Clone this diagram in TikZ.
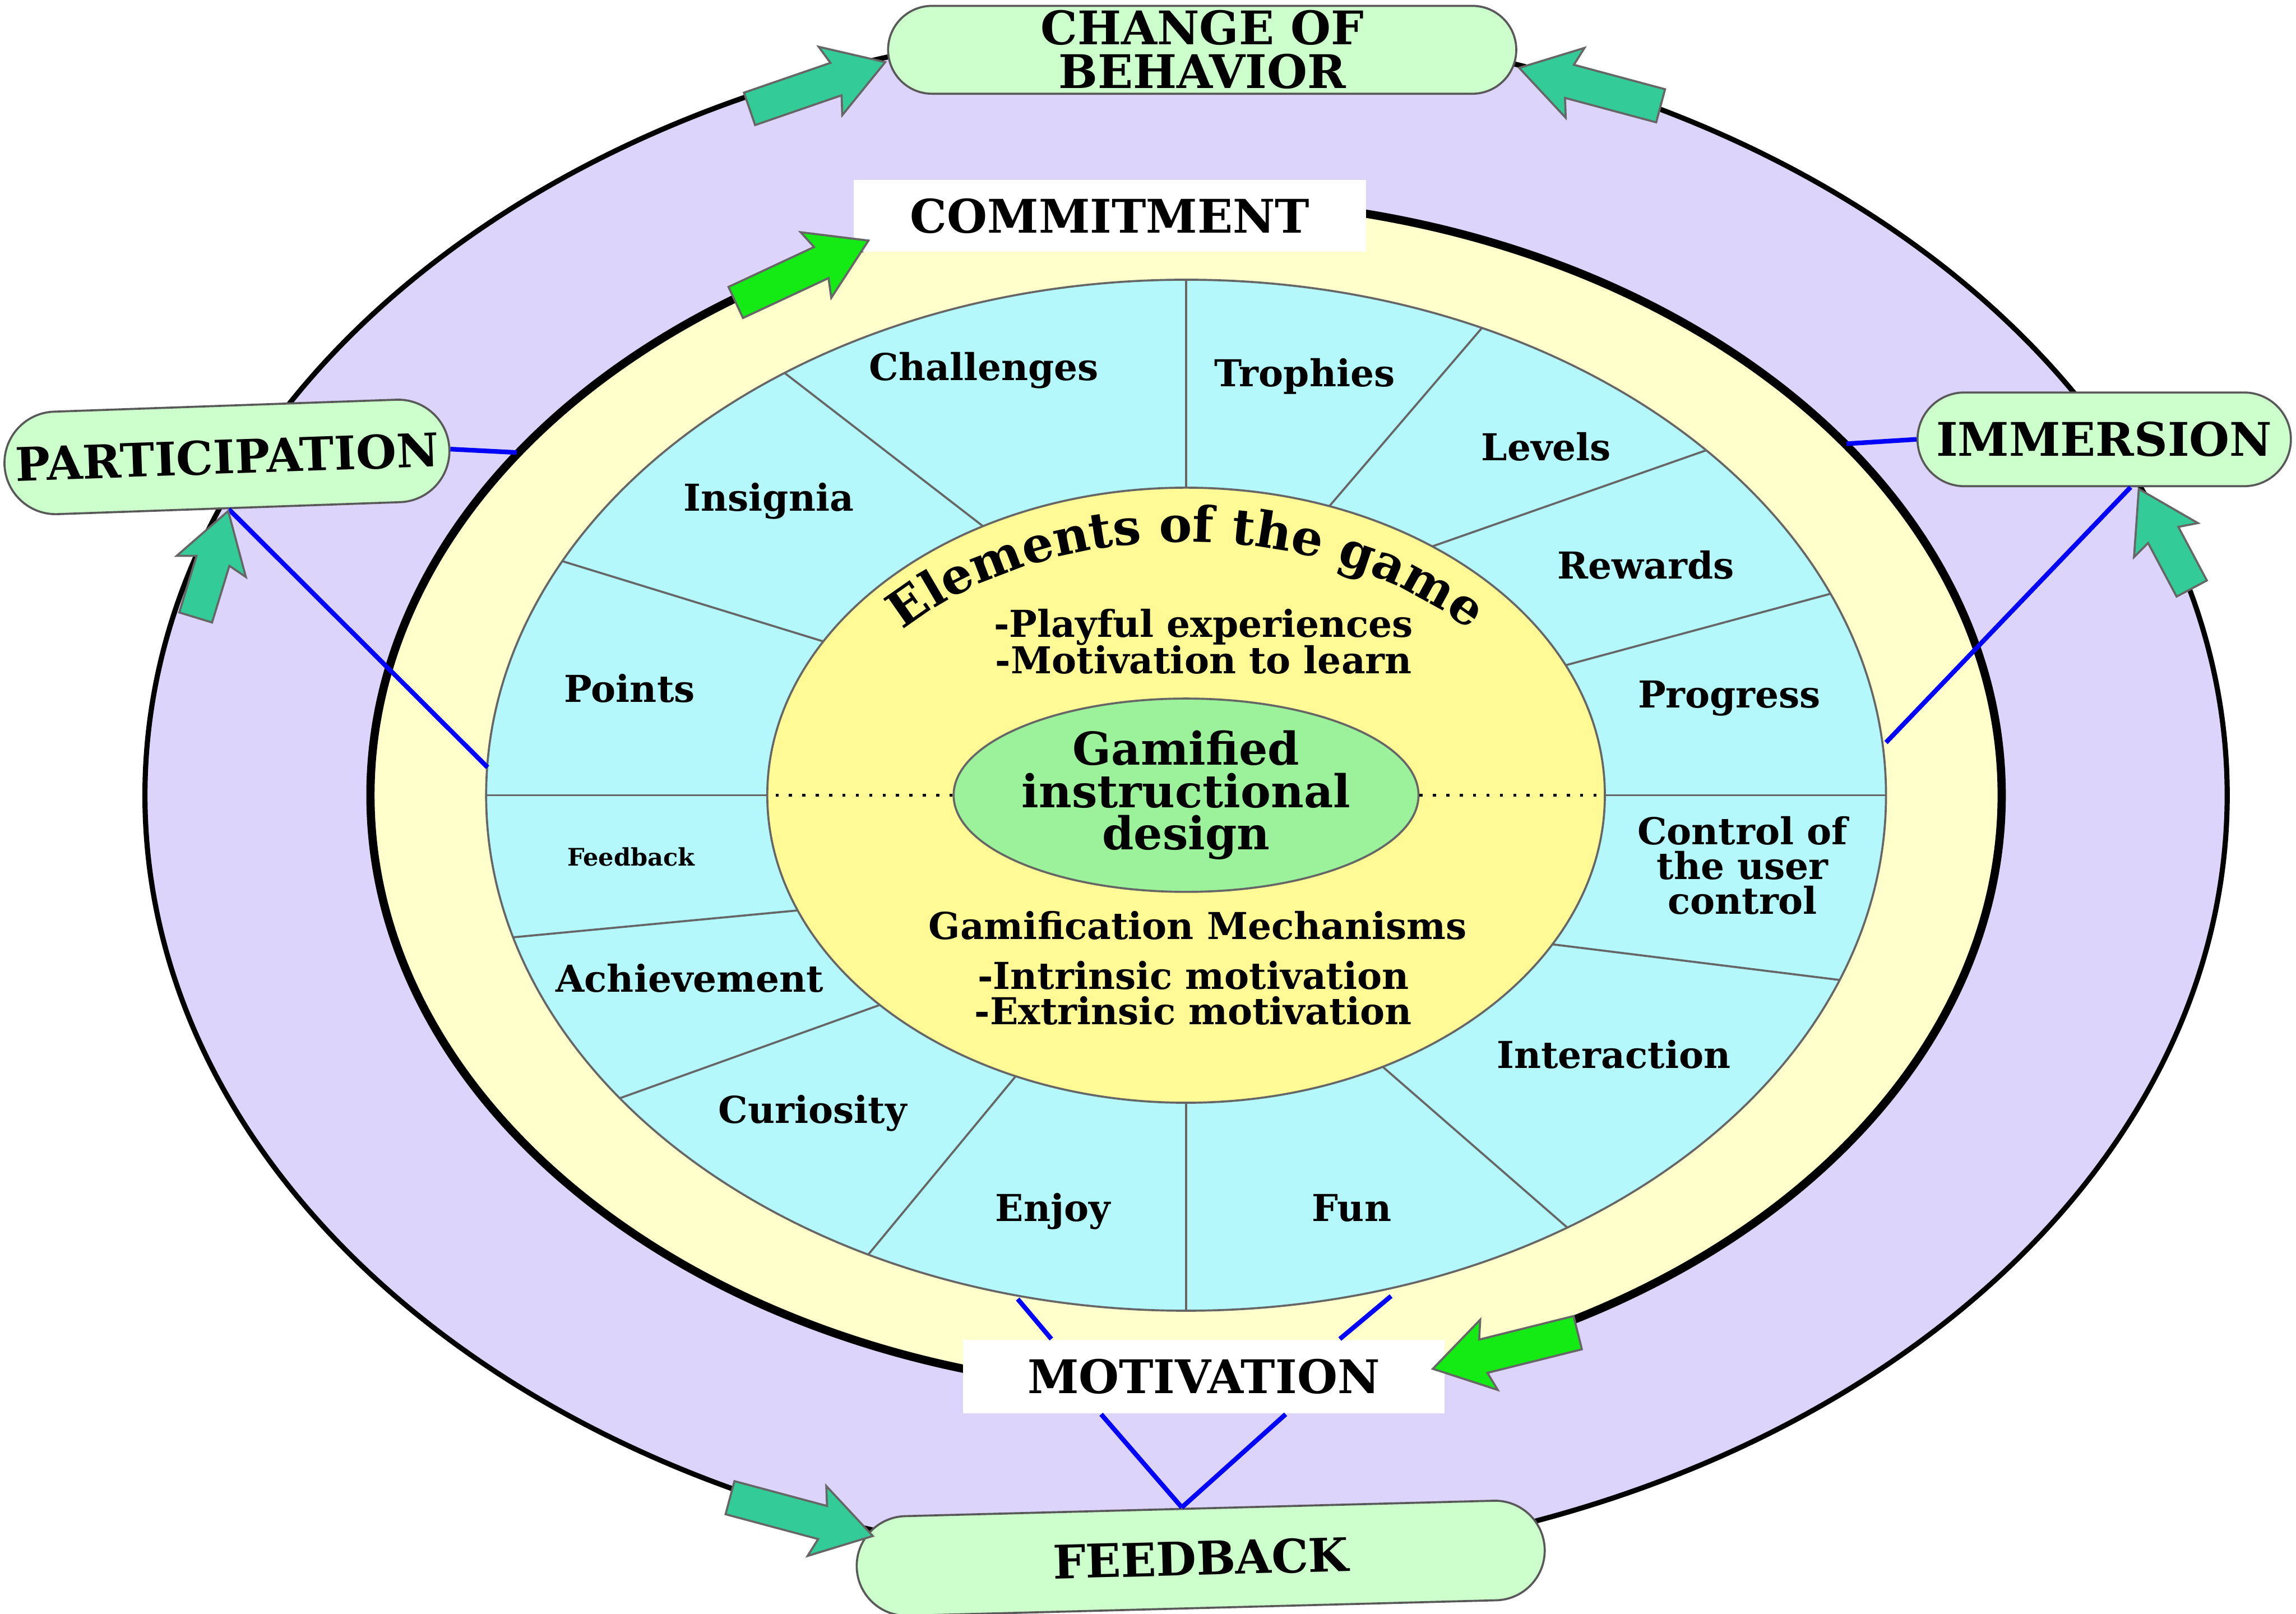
\documentclass[tikz,border=0pt]{standalone}
\usepackage{fontspec}
\setmainfont{DejaVu Serif}
\usetikzlibrary{shapes.arrows,shapes.geometric,decorations.text,calc}

\definecolor{ringpurple}{RGB}{220,212,250}
\definecolor{ringyellow}{RGB}{255,255,204}
\definecolor{ringcyan}{RGB}{180,248,252}
\definecolor{coreyellow}{RGB}{255,250,150}
\definecolor{coregreen}{RGB}{155,242,155}
\definecolor{boxgreen}{RGB}{204,255,204}
\definecolor{arrowteal}{RGB}{51,204,153}
\definecolor{arrowgreen}{RGB}{20,235,20}

\begin{document}
\begin{tikzpicture}[
    pill/.style={draw=gray!70!black, fill=boxgreen, rounded corners=0.3cm, inner sep=0pt, font=\fontsize{9}{8.5}\selectfont\bfseries, align=center},
    plate/.style={fill=white, inner sep=0pt, font=\fontsize{9}{8.5}\selectfont\bfseries},
    seg/.style={font=\fontsize{7.2}{6.8}\selectfont\bfseries, align=center, inner sep=1pt},
    blockarrow/.style={single arrow, draw=black!60, anchor=tip, inner xsep=0pt, inner ysep=0.11cm, single arrow head extend=0.13cm, single arrow head indent=0.04cm, single arrow tip angle=64},
    link/.style={blue, line width=0.9pt}
]
\fill[white] (-8.10,-5.59) rectangle (7.58,5.43);
\useasboundingbox (-8.10,-5.59) rectangle (7.58,5.43);

% Rings
\draw[fill=ringpurple, line width=1pt] (0,0) ellipse [x radius=7.11, y radius=5.26];
\draw[fill=ringyellow, line width=1.6pt] (0,0) ellipse [x radius=5.57, y radius=4.07];
\draw[fill=ringcyan, draw=black!60, line width=0.4pt] (0,0) ellipse [x radius=4.78, y radius=3.52];

% Dividers of the element ring
\foreach \a/\b in {90/90, 65/70, 42/54, 23/25, 0/0, -21/-29, -57/-62, -90/-90, -117/-114, -144/-137, -164/-158, 180/180, 153/150, 125/119}
    \draw[black!60, line width=0.4pt] (\a:4.78 and 3.52) -- (\b:2.86 and 2.10);

% Core
\draw[fill=coreyellow, draw=black!60, line width=0.4pt] (0,0) ellipse [x radius=2.86, y radius=2.10];
\node[ellipse, draw=black!60, fill=coregreen, minimum width=2.67cm, minimum height=1.32cm, inner sep=0pt, align=center, font=\fontsize{8.8}{8.2}\selectfont\bfseries] (core) at (0,0) {Gamified\\instructional\\design};
\draw[dotted, line width=0.6pt] (core.west) -- (-2.86,0);
\draw[dotted, line width=0.6pt] (core.east) -- (2.86,0);

\path[decorate, decoration={text along path, text align=center, text={|\fontsize{9.6}{10}\selectfont\bfseries|Elements of the game}}] (160:2.55 and 1.73) arc[start angle=160, end angle=20, x radius=2.55, y radius=1.73];

\node[seg, font=\fontsize{7.2}{7.1}\selectfont\bfseries] (playful) at (0.12,1.05) {-Playful experiences\\-Motivation to learn};
\node[seg] (mechan) at (0.08,-0.89) {Gamification Mechanisms};
\node[seg, font=\fontsize{7.2}{6.9}\selectfont\bfseries] (kinds) at (0.05,-1.35) {-Intrinsic motivation\\-Extrinsic motivation};

% Game elements
\node[seg] (chal) at (-1.38,2.90) {Challenges};
\node[seg] (troph) at (0.81,2.86) {Trophies};
\node[seg] (levels) at (2.46,2.38) {Levels};
\node[seg] (reward) at (3.14,1.57) {Rewards};
\node[seg] (progr) at (3.71,0.66) {Progress};
\node[seg] (control) at (3.80,-0.48) {Control of\\the user\\control};
\node[seg] (inter) at (2.92,-1.77) {Interaction};
\node[seg] (fun) at (1.13,-2.82) {Fun};
\node[seg] (enjoy) at (-0.91,-2.84) {Enjoy};
\node[seg] (curio) at (-2.55,-2.17) {Curiosity};
\node[seg] (achiev) at (-3.39,-1.25) {Achievement};
\node[seg, font=\fontsize{4.7}{5}\selectfont\bfseries] (fdbk) at (-3.79,-0.42) {Feedback};
\node[seg] (points) at (-3.80,0.73) {Points};
\node[seg] (insig) at (-2.85,2.01) {Insignia};

% Outer labels
\node[pill, minimum width=4.29cm, minimum height=0.60cm] (behavior) at (0.11,5.09) {CHANGE OF\\BEHAVIOR};
\node[plate, minimum width=3.50cm, minimum height=0.49cm] (commit) at (-0.52,3.955) {COMMITMENT};
\node[pill, minimum width=3.04cm, minimum height=0.70cm, rounded corners=0.35cm, rotate=2] (particip) at (-6.55,2.31) {PARTICIPATION};
\node[pill, minimum width=2.55cm, minimum height=0.64cm, rounded corners=0.32cm] (immers) at (6.27,2.43) {IMMERSION};
\node[plate, minimum width=3.29cm, minimum height=0.50cm] (motiv) at (0.12,-3.97) {MOTIVATION};
\node[pill, minimum width=4.70cm, minimum height=0.68cm, rounded corners=0.34cm, rotate=1.5] (feedback) at (0.10,-5.21) {FEEDBACK};

% Blue links
\coordinate (pY) at (-4.57,2.34);
\coordinate (pC) at (-4.77,0.19);
\coordinate (iY) at (4.51,2.40);
\coordinate (iC) at (4.78,0.36);
\coordinate (mL) at (-1.15,-3.44);
\coordinate (mR) at (1.40,-3.42);
\draw[link] (particip.east) -- (pY);
\draw[link] (particip.south) -- (pC);
\draw[link] (immers.west) -- (iY);
\draw[link] ([xshift=0.18cm]immers.south) -- (iC);
\draw[link] (mL) -- ([xshift=-1.04cm]motiv.north);
\draw[link] (mR) -- ([xshift=0.93cm]motiv.north);
\draw[link] ([xshift=-0.70cm]motiv.south) -- ([xshift=-0.12cm]feedback.north);
\draw[link] ([xshift=0.56cm]motiv.south) -- ([xshift=-0.12cm]feedback.north);

% Block arrows
\node[blockarrow, fill=arrowteal, minimum height=0.98cm, rotate=19] (toBehL) at ([yshift=-0.08cm]behavior.west) {};
\node[blockarrow, fill=arrowteal, minimum height=1.0cm, rotate=165] (toBehR) at ([yshift=-0.12cm]behavior.east) {};
\node[blockarrow, fill=arrowgreen, minimum height=1.0cm, rotate=25] (toCommit) at ([xshift=0.12cm, yshift=0.09cm]commit.south west) {};
\node[blockarrow, fill=arrowteal, minimum height=0.76cm, rotate=73] (toPart) at (particip.south) {};
\node[blockarrow, fill=arrowteal, minimum height=0.77cm, rotate=118] (toImm) at ([xshift=0.23cm]immers.south) {};
\node[blockarrow, fill=arrowgreen, minimum height=1.02cm, rotate=194] (toMotiv) at ([xshift=-0.1cm, yshift=0.05cm]motiv.east) {};
\node[blockarrow, fill=arrowteal, minimum height=1.01cm, rotate=-15] (toFeed) at ([xshift=0.13cm, yshift=0.21cm]feedback.west) {};

\end{tikzpicture}
\end{document}
